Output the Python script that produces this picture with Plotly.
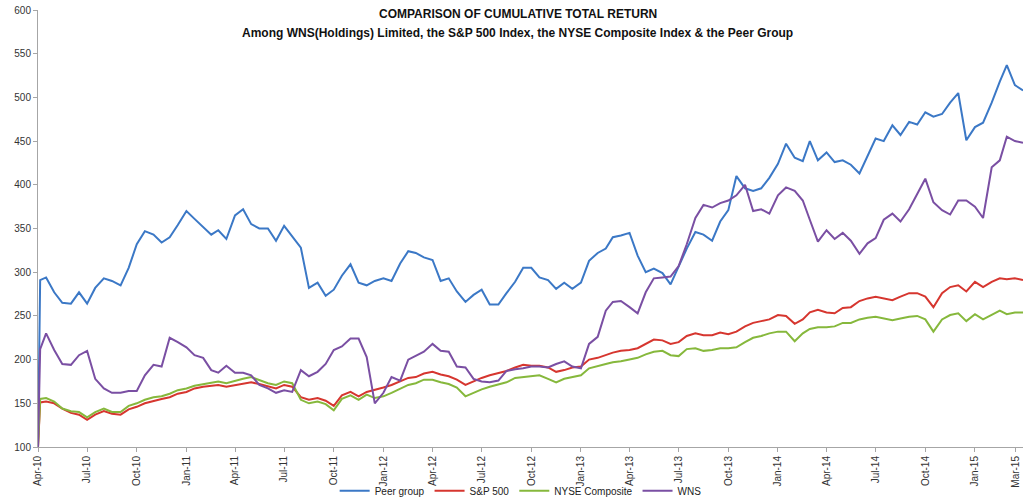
import plotly.graph_objects as go

dates = [
    "2010-04-01", "2010-04-05", "2010-04-16",
    "2010-05-01", "2010-05-16", "2010-06-01", "2010-06-16", "2010-07-01", "2010-07-16", "2010-08-01", "2010-08-16",
    "2010-09-01", "2010-09-16", "2010-10-01", "2010-10-16", "2010-11-01", "2010-11-16", "2010-12-01", "2010-12-16",
    "2011-01-01", "2011-01-16", "2011-02-01", "2011-02-16", "2011-03-01", "2011-03-16", "2011-04-01", "2011-04-16",
    "2011-05-01", "2011-05-16", "2011-06-01", "2011-06-16", "2011-07-01", "2011-07-16", "2011-08-01", "2011-08-16",
    "2011-09-01", "2011-09-16", "2011-10-01", "2011-10-16", "2011-11-01", "2011-11-16", "2011-12-01", "2011-12-16",
    "2012-01-01", "2012-01-16", "2012-02-01", "2012-02-16", "2012-03-01", "2012-03-16", "2012-04-01", "2012-04-16",
    "2012-05-01", "2012-05-16", "2012-06-01", "2012-06-16", "2012-07-01", "2012-07-16", "2012-08-01", "2012-08-16",
    "2012-09-01", "2012-09-16", "2012-10-01", "2012-10-16", "2012-11-01", "2012-11-16", "2012-12-01", "2012-12-16",
    "2013-01-01", "2013-01-16", "2013-02-01", "2013-02-16", "2013-03-01", "2013-03-16", "2013-04-01", "2013-04-16",
    "2013-05-01", "2013-05-16", "2013-06-01", "2013-06-16", "2013-07-01", "2013-07-16", "2013-08-01", "2013-08-16",
    "2013-09-01", "2013-09-16", "2013-10-01", "2013-10-16", "2013-11-01", "2013-11-16", "2013-12-01", "2013-12-16",
    "2014-01-01", "2014-01-16", "2014-02-01", "2014-02-16", "2014-03-01", "2014-03-16", "2014-04-01", "2014-04-16",
    "2014-05-01", "2014-05-16", "2014-06-01", "2014-06-16", "2014-07-01", "2014-07-16", "2014-08-01", "2014-08-16",
    "2014-09-01", "2014-09-16", "2014-10-01", "2014-10-16", "2014-11-01", "2014-11-16", "2014-12-01", "2014-12-16",
    "2015-01-01", "2015-01-16", "2015-02-01", "2015-02-16", "2015-03-01", "2015-03-16", "2015-03-31",
]

peer_group = [
    100, 291, 294,
    277, 265, 264, 277, 264, 282, 293, 290, 285, 305, 332, 347, 343, 334, 340, 354,
    370, 361, 352, 343, 348, 338, 365, 372, 355, 350, 350, 336, 353, 341, 328, 282, 288, 273, 280, 296, 309, 288, 285, 290,
    293, 290, 310, 324, 322, 317, 314, 290, 293, 278, 266, 274, 280, 263, 263, 276, 289, 305, 305, 294, 291, 281, 288, 281,
    288, 313, 322, 327, 340, 342, 345, 319, 300, 304, 299, 286, 306, 327, 346, 343, 336, 358, 371, 410, 396, 393, 396, 408,
    424, 447, 431, 427, 450, 428, 437, 426, 428, 423, 413, 433, 453, 450, 468, 457, 472, 469, 483, 478, 481, 494, 505, 451,
    466, 471, 494, 518, 537, 514, 508,
]

sp500 = [
    100, 151, 152,
    150, 144, 139, 137, 131, 137, 141, 138, 137, 143, 146, 150, 153, 155, 157, 161,
    163, 167, 169, 170, 171, 169, 171, 173, 174, 172, 169, 167, 171, 169, 157, 154, 156, 153, 147, 159, 163, 158, 163, 165,
    168, 171, 175, 179, 180, 184, 186, 183, 181, 177, 171, 175, 179, 182, 185, 187, 191, 194, 193, 193, 191, 186, 188, 191,
    192, 200, 202, 205, 208, 210, 211, 213, 218, 223, 222, 218, 220, 227, 230, 228, 228, 231, 229, 232, 238, 242, 244, 246,
    251, 250, 241, 246, 254, 257, 254, 253, 259, 260, 267, 270, 272, 270, 268, 272, 276, 276, 272, 260, 276, 283, 285, 278,
    289, 283, 289, 293, 292, 293, 291,
]

nyse_composite = [
    100, 155, 156,
    152, 144, 141, 140, 134, 140, 144, 140, 140, 147, 150, 154, 157, 158, 161, 165,
    167, 170, 172, 174, 175, 173, 176, 178, 180, 177, 173, 171, 175, 173, 154, 150, 152, 149, 142, 155, 159, 154, 160, 156,
    158, 162, 167, 171, 173, 177, 177, 174, 172, 168, 158, 162, 166, 169, 172, 174, 179, 180, 181, 182, 178, 174, 178, 180,
    182, 190, 193, 195, 197, 198, 200, 202, 206, 209, 210, 205, 204, 212, 213, 210, 211, 213, 213, 214, 220, 225, 227, 230,
    232, 232, 221, 230, 235, 237, 237, 238, 242, 242, 246, 248, 249, 247, 245, 247, 249, 250, 246, 232, 246, 251, 253, 244,
    252, 246, 251, 256, 252, 254, 254,
]

wns = [
    100, 212, 230,
    211, 195, 194, 205, 210, 178, 167, 162, 162, 164, 164, 182, 194, 192, 225, 220,
    214, 205, 202, 188, 185, 193, 185, 185, 182, 171, 167, 162, 165, 163, 188, 181, 186, 195, 211, 215, 224, 224, 203, 150,
    162, 180, 176, 200, 204, 209, 218, 210, 209, 192, 191, 178, 175, 174, 176, 187, 189, 190, 192, 192, 191, 195, 198, 192,
    190, 218, 226, 256, 266, 267, 260, 253, 277, 293, 294, 295, 307, 332, 362, 377, 374, 379, 382, 388, 400, 370, 372, 367,
    388, 397, 393, 382, 360, 335, 348, 338, 345, 336, 321, 333, 339, 360, 367, 358, 372, 390, 407, 380, 371, 366, 382, 382,
    375, 362, 420, 428, 455, 450, 448,
]

series_names = ["Peer group", "S&P 500", "NYSE Composite", "WNS"]
series_colors = ["#3b78c6", "#d6362f", "#86b83c", "#7a4fa3"]

tick_dates = [
    "2010-04-01", "2010-07-01", "2010-10-01", "2011-01-01", "2011-04-01", "2011-07-01", "2011-10-01",
    "2012-01-01", "2012-04-01", "2012-07-01", "2012-10-01", "2013-01-01", "2013-04-01", "2013-07-01",
    "2013-10-01", "2014-01-01", "2014-04-01", "2014-07-01", "2014-10-01", "2015-01-01", "2015-03-17",
]
tick_labels = [
    "Apr-10", "Jul-10", "Oct-10", "Jan-11", "Apr-11", "Jul-11", "Oct-11",
    "Jan-12", "Apr-12", "Jul-12", "Oct-12", "Jan-13", "Apr-13", "Jul-13",
    "Oct-13", "Jan-14", "Apr-14", "Jul-14", "Oct-14", "Jan-15", "Mar-15",
]

title_line1 = "COMPARISON OF CUMULATIVE TOTAL RETURN"
title_line2 = "Among WNS(Holdings) Limited, the S&P 500 Index, the NYSE Composite Index & the Peer Group"

fig = go.Figure()
for name, vals, col in zip(series_names, [peer_group, sp500, nyse_composite, wns], series_colors):
    fig.add_trace(go.Scatter(x=dates, y=vals, mode="lines", name=name,
                             line=dict(color=col, width=2)))

font_family = "Liberation Sans, Arial, sans-serif"
fig.update_layout(
    width=1023, height=501,
    margin=dict(l=38, r=0, t=10, b=54, autoexpand=False),
    paper_bgcolor="white", plot_bgcolor="white",
    font=dict(family=font_family, size=10, color="#333333"),
    showlegend=True,
    legend=dict(orientation="h", x=0.49, xanchor="center", y=-0.1, yanchor="middle",
                font=dict(size=10, color="#222222"), itemwidth=30, tracegroupgap=0,
                bgcolor="rgba(0,0,0,0)"),
    annotations=[
        dict(text="<b>" + title_line1 + "</b>", xref="paper", yref="paper", x=0.487, y=0.991,
             xanchor="center", yanchor="middle", showarrow=False,
             font=dict(size=12, color="#111111", family=font_family)),
        dict(text="<b>" + title_line2 + "</b>", xref="paper", yref="paper", x=0.487, y=0.947,
             xanchor="center", yanchor="middle", showarrow=False,
             font=dict(size=12, color="#111111", family=font_family)),
    ],
)
fig.update_xaxes(type="date", range=["2010-04-01", "2015-03-31"], automargin=False,
                 tickmode="array", tickvals=tick_dates, ticktext=tick_labels,
                 tickangle=-90, tickfont=dict(size=10, color="#333333"),
                 ticklabeloverflow="allow",
                 showgrid=False, zeroline=False, showline=True, linecolor="#a6a6a6", linewidth=1,
                 ticks="outside", ticklen=4, tickcolor="#a6a6a6")
fig.update_yaxes(range=[100, 600], dtick=50, tick0=100, automargin=False,
                 tickfont=dict(size=10, color="#333333"),
                 showgrid=False, zeroline=False, showline=True, linecolor="#a6a6a6", linewidth=1,
                 ticks="outside", ticklen=4, tickcolor="#a6a6a6")

fig.write_html("out.html", config={"displayModeBar": False},
               post_script="document.body.style.margin='0';document.body.style.overflow='hidden';")
